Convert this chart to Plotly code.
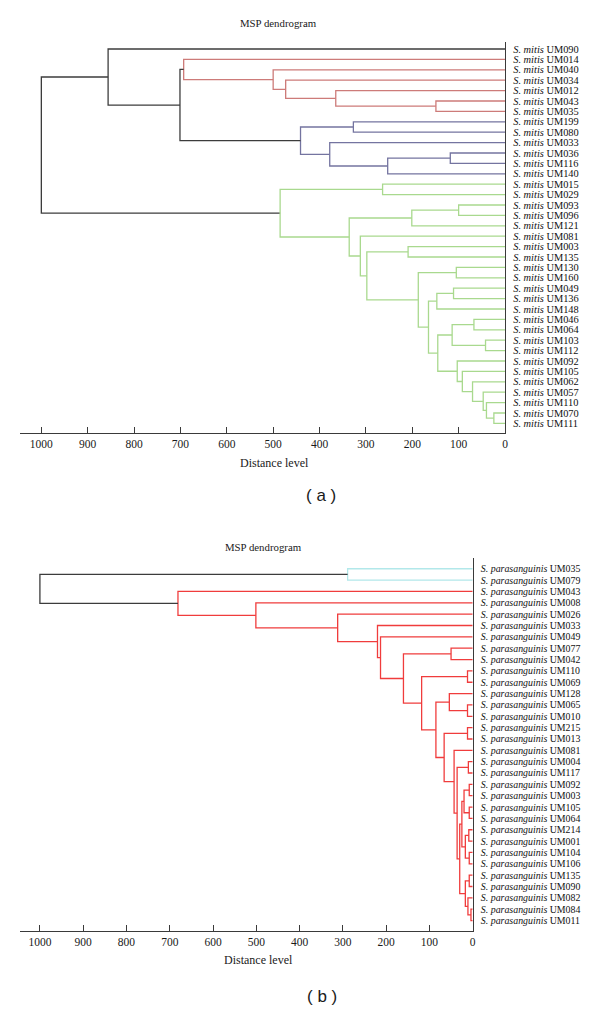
import plotly.graph_objects as go

# ---------------- data: panel (a) ----------------
SPECIES_A = "S. mitis"
LEAVES_A = ["UM090", "UM014", "UM040", "UM034", "UM012", "UM043", "UM035",
            "UM199", "UM080", "UM033", "UM036", "UM116", "UM140", "UM015",
            "UM029", "UM093", "UM096", "UM121", "UM081", "UM003", "UM135",
            "UM130", "UM160", "UM049", "UM136", "UM148", "UM046", "UM064",
            "UM103", "UM112", "UM092", "UM105", "UM062", "UM057", "UM110",
            "UM070", "UM111"]
# (node, left child, right child, distance, cluster group)
MERGES_A = [
    ("r1", "UM043", "UM035", 149, "red"),
    ("r2", "UM012", "r1", 365, "red"),
    ("r3", "UM034", "r2", 473, "red"),
    ("r4", "UM040", "r3", 500, "red"),
    ("r5", "UM014", "r4", 693, "red"),
    ("b1", "UM199", "UM080", 327, "blue"),
    ("b2", "UM036", "UM116", 118, "blue"),
    ("b3", "b2", "UM140", 253, "blue"),
    ("b4", "UM033", "b3", 378, "blue"),
    ("b5", "b1", "b4", 441, "blue"),
    ("k1", "r5", "b5", 701, "black"),
    ("k2", "UM090", "k1", 856, "black"),
    ("g1", "UM015", "UM029", 264, "green"),
    ("g2", "UM093", "UM096", 100, "green"),
    ("g3", "g2", "UM121", 201, "green"),
    ("g4", "UM003", "UM135", 209, "green"),
    ("g5", "UM130", "UM160", 105, "green"),
    ("g6", "UM049", "UM136", 111, "green"),
    ("g7", "g6", "UM148", 147, "green"),
    ("g8", "UM046", "UM064", 67, "green"),
    ("g9", "UM103", "UM112", 42, "green"),
    ("g10", "g8", "g9", 114, "green"),
    ("g11", "UM070", "UM111", 24, "green"),
    ("g12", "UM110", "g11", 40, "green"),
    ("g13", "UM057", "g12", 47, "green"),
    ("g14", "UM062", "g13", 70, "green"),
    ("g15", "UM105", "g14", 92, "green"),
    ("g16", "UM092", "g15", 103, "green"),
    ("g17", "g10", "g16", 145, "green"),
    ("g18", "g7", "g17", 165, "green"),
    ("g19", "g5", "g18", 187, "green"),
    ("g20", "g4", "g19", 298, "green"),
    ("g21", "UM081", "g20", 312, "green"),
    ("g22", "g3", "g21", 336, "green"),
    ("g23", "g1", "g22", 485, "green"),
    ("root", "k2", "g23", 1000, "black"),
]
COLORS_A = {"black": "#3c3c3c", "red": "#cd7b79", "blue": "#7474a0", "green": "#a9d98e"}

# ---------------- data: panel (b) ----------------
SPECIES_B = "S. parasanguinis"
LEAVES_B = ["UM035", "UM079", "UM043", "UM008", "UM026", "UM033", "UM049",
            "UM077", "UM042", "UM110", "UM069", "UM128", "UM065", "UM010",
            "UM215", "UM013", "UM081", "UM004", "UM117", "UM092", "UM003",
            "UM105", "UM064", "UM214", "UM001", "UM104", "UM106", "UM135",
            "UM090", "UM082", "UM084", "UM011"]
MERGES_B = [
    ("c1", "UM035", "UM079", 289, "cyan"),
    ("m1", "UM077", "UM042", 50, "red"),
    ("m2", "UM110", "UM069", 12, "red"),
    ("m3", "UM065", "UM010", 12, "red"),
    ("m4", "UM128", "m3", 54, "red"),
    ("m5", "UM215", "UM013", 12, "red"),
    ("n1", "UM004", "UM117", 10, "red"),
    ("n2", "UM092", "UM003", 8, "red"),
    ("n3", "UM105", "UM064", 8, "red"),
    ("n4", "n2", "n3", 20, "red"),
    ("n5", "UM214", "UM001", 9, "red"),
    ("n6", "UM104", "UM106", 8, "red"),
    ("n7", "n5", "n6", 17, "red"),
    ("n8", "n4", "n7", 25, "red"),
    ("n9", "UM135", "UM090", 8, "red"),
    ("n10", "UM084", "UM011", 4, "red"),
    ("n11", "UM082", "n10", 11, "red"),
    ("n12", "n9", "n11", 17, "red"),
    ("n13", "n8", "n12", 30, "red"),
    ("n14", "n1", "n13", 36, "red"),
    ("mA", "UM081", "n14", 43, "red"),
    ("m6", "m5", "mA", 66, "red"),
    ("m7", "m4", "m6", 85, "red"),
    ("m8", "m2", "m7", 118, "red"),
    ("m9", "m1", "m8", 160, "red"),
    ("m10", "UM049", "m9", 213, "red"),
    ("m11", "UM033", "m10", 220, "red"),
    ("m12", "UM026", "m11", 312, "red"),
    ("m13", "UM008", "m12", 501, "red"),
    ("m14", "UM043", "m13", 681, "red"),
    ("root", "c1", "m14", 1000, "black"),
]
COLORS_B = {"black": "#3c3c3c", "red": "#f03c3c", "cyan": "#b2e8ea"}

X_TICKS = [1000, 900, 800, 700, 600, 500, 400, 300, 200, 100, 0]
TITLE = "MSP dendrogram"
X_TITLE = "Distance level"

SERIF = "Liberation Serif"
# page is rendered with an 8px body margin: figure covers page px 8..600
OFF = 8
W, H = 600 - OFF, 1017 - 2 * OFF


def px_x(p):
    return (p - OFF) / W


def px_y(p):
    return 1 - (p - OFF) / H


def dendro_traces(leaves, merges, colors, xa, ya):
    ypos = {lf: float(i) for i, lf in enumerate(leaves)}
    hgt = {lf: 0.0 for lf in leaves}
    segs = {}
    for node, left, right, h, grp in merges:
        yl, yr = ypos[left], ypos[right]
        xs, ys = segs.setdefault(grp, ([], []))
        xs += [hgt[left], h, h, hgt[right], None]
        ys += [yl, yl, yr, yr, None]
        ypos[node] = (yl + yr) / 2
        hgt[node] = h
    out = []
    for grp, (xs, ys) in segs.items():
        out.append(go.Scatter(x=xs, y=ys, mode="lines", xaxis=xa, yaxis=ya,
                              line=dict(color=colors[grp], width=1.3),
                              hoverinfo="skip", showlegend=False))
    return out


fig = go.Figure()
for t in dendro_traces(LEAVES_A, MERGES_A, COLORS_A, "x", "y"):
    fig.add_trace(t)
for t in dendro_traces(LEAVES_B, MERGES_B, COLORS_B, "x2", "y2"):
    fig.add_trace(t)

axis_line = "#3a3a3a"


def xaxis_cfg(domain, anchor):
    return dict(domain=domain, anchor=anchor, range=[1046, 0], showgrid=False,
                zeroline=False, automargin=False,
                showline=True, linecolor=axis_line, linewidth=1.3,
                ticks="inside", ticklen=6, tickwidth=1.2, tickcolor=axis_line,
                tickvals=X_TICKS, ticktext=[str(v) for v in X_TICKS],
                tickfont=dict(family=SERIF, size=11.5, color="#1a1a1a"),
                fixedrange=True)


def yaxis_cfg(domain, anchor, leaves, species, rng, size, standoff):
    return dict(domain=domain, anchor=anchor, range=rng, side="right", showgrid=False,
                zeroline=False, automargin=False,
                showline=True, linecolor=axis_line, linewidth=1.3,
                ticks="", tickvals=list(range(len(leaves))),
                ticktext=[f"<i>{species}</i> {lf}" for lf in leaves],
                tickfont=dict(family=SERIF, size=size, color="#111"),
                ticklabelstandoff=standoff, fixedrange=True)


fig.update_layout(
    width=W, height=H, margin=dict(l=0, r=0, t=0, b=0, autoexpand=False),
    paper_bgcolor="white", plot_bgcolor="white",
    xaxis=xaxis_cfg([px_x(20), px_x(505)], "y"),
    yaxis=yaxis_cfg([px_y(433.3), px_y(41.7)], "x", LEAVES_A, SPECIES_A,
                    [36.95, -0.7], 10.4, 5),
    xaxis2=xaxis_cfg([px_x(20), px_x(472.7)], "y2"),
    yaxis2=yaxis_cfg([px_y(931), px_y(558.3)], "x2", LEAVES_B, SPECIES_B,
                     [31.92, -0.92], 9.9, 5),
)


def ann(text, x, y, size, family=SERIF):
    fig.add_annotation(text=text, x=px_x(x), y=px_y(y), xref="paper", yref="paper",
                       showarrow=False, xanchor="center", yanchor="middle",
                       font=dict(family=family, size=size, color="#1a1a1a"))


ann(TITLE, 278, 23, 10.8)
ann(X_TITLE, 274, 463, 12)
ann("( a )", 321, 496, 17, "Liberation Sans")
ann(TITLE, 263, 547, 10.8)
ann(X_TITLE, 258, 960, 12)
ann("( b )", 322, 996, 17, "Liberation Sans")

fig.write_html("out.html")
